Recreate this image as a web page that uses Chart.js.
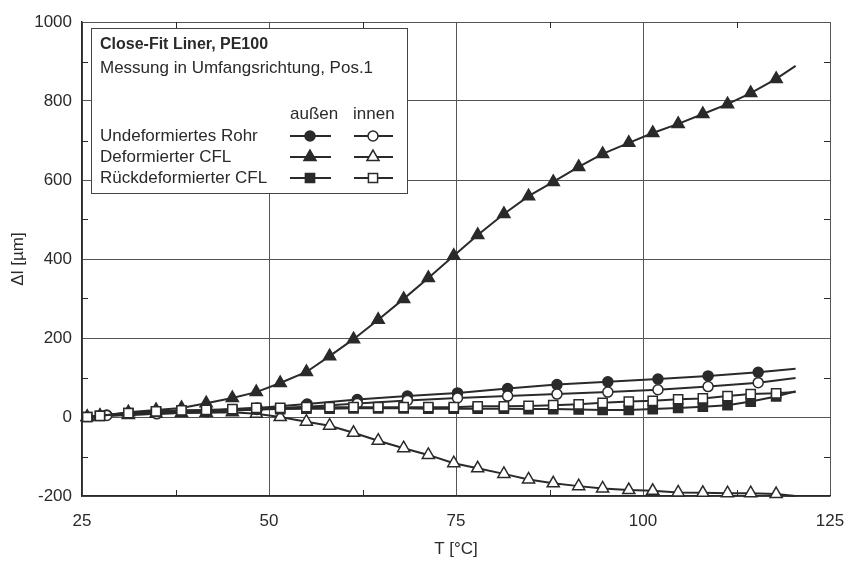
<!DOCTYPE html>
<html>
<head>
<meta charset="utf-8">
<script src="https://cdn.jsdelivr.net/npm/chart.js@4.4.1/dist/chart.umd.min.js"></script>
<style>
  html, body { margin: 0; padding: 0; background: #fff; }
  #wrap { width: 847px; height: 564px; }
</style>
</head>
<body>
<div id="wrap"><canvas id="chart" width="847" height="564"></canvas></div>
<script>
// Temperatures [°C] of the densely marked series (triangles, squares)
const tempDense = [25.7, 27.4, 31.2, 34.9, 38.3, 41.6, 45.1, 48.3, 51.5, 55.0, 58.1, 61.3, 64.6, 68.0, 71.3,
  74.7, 77.9, 81.4, 84.7, 88.0, 91.4, 94.6, 98.1, 101.3, 104.7, 108.0, 111.3, 114.4, 117.8, 120.4];
// Temperatures [°C] of the undeformed pipe (circles)
const tempPipe = [25.7, 28.3, 35.0, 41.7, 48.4, 55.1, 61.8, 68.5, 75.2, 81.9, 88.5, 95.3, 102.0, 108.7, 115.4, 120.4];

// Δl [µm]
const pipeOuter = [0, 5, 10, 16, 23, 33, 44, 53, 61, 72, 82, 89, 96, 104, 113, 122];
const pipeInner = [0, 4, 8, 13, 19, 26, 34, 42, 48, 53, 58, 63, 69, 77, 87, 99];
const cflOuter = [0, 3, 12, 18, 23, 35, 48, 63, 86, 114, 154, 197, 246, 299, 352,
  408, 461, 514, 559, 595, 633, 666, 694, 719, 742, 767, 792, 820, 856, 889];
const cflInner = [0, 2, 5, 8, 10, 11, 12, 8, 0, -12, -22, -40, -60, -79, -96,
  -117, -130, -144, -158, -168, -175, -181, -185, -187, -191, -192, -193, -193, -195, -200];
const reOuter = [0, 3, 10, 13, 15, 16, 18, 19, 20, 21, 21, 22, 22, 22, 21,
  21, 21, 21, 20, 20, 19, 18, 18, 20, 23, 26, 30, 39, 52, 65];
const reInner = [0, 3, 10, 14, 17, 18, 20, 23, 23, 25, 25, 25, 25, 25, 25,
  25, 27, 27, 28, 30, 32, 36, 39, 41, 45, 47, 53, 58, 60, 63];

const xTicks = [25, 50, 75, 100, 125];
const yTicks = [-200, 0, 200, 400, 600, 800, 1000];
const xMinor = [37.5, 62.5, 87.5, 112.5];
const yMinor = [-100, 100, 300, 500, 700, 900];

const rowLabels = ['Undeformiertes Rohr', 'Deformierter CFL', 'Rückdeformierter CFL'];

const INK = '#2a2a2a';
const FONT = "'Liberation Sans', Arial, sans-serif";

function pairs(xs, ys) {
  return xs.map((x, i) => ({ x: x, y: ys[i] }));
}

// markers on every measured point except the open line ends
function markerSize(r, skipFirst) {
  return ctx => {
    const n = ctx.dataset.data.length;
    if (ctx.dataIndex === n - 1) return 0;
    if (skipFirst && ctx.dataIndex === 0) return 0;
    return r;
  };
}

function series(xs, ys, style, filled, r, skipFirst) {
  return {
    data: pairs(xs, ys),
    borderColor: INK,
    borderWidth: 2,
    pointStyle: style,
    pointRadius: markerSize(r, skipFirst),
    pointBackgroundColor: filled ? INK : '#fff',
    pointBorderColor: INK,
    pointBorderWidth: 1.5,
    tension: 0,
    clip: false
  };
}

const datasets = [
  series(tempDense, reInner, 'rect', false, 6.5, false),
  series(tempDense, reOuter, 'rect', true, 6.5, false),
  series(tempPipe, pipeInner, 'circle', false, 5, true),
  series(tempPipe, pipeOuter, 'circle', true, 5, true),
  series(tempDense, cflInner, 'triangle', false, 7, false),
  series(tempDense, cflOuter, 'triangle', true, 7, false)
];

// short inward minor ticks on all four sides
const minorTicks = {
  id: 'minorTicks',
  afterDatasetsDraw(chart) {
    const { ctx, chartArea: a, scales } = chart;
    ctx.save();
    ctx.strokeStyle = INK;
    ctx.lineWidth = 1;
    ctx.beginPath();
    xMinor.forEach(v => {
      const px = Math.round(scales.x.getPixelForValue(v)) + 0.5;
      ctx.moveTo(px, a.bottom); ctx.lineTo(px, a.bottom - 6);
      ctx.moveTo(px, a.top); ctx.lineTo(px, a.top + 6);
    });
    yMinor.forEach(v => {
      const py = Math.round(scales.y.getPixelForValue(v)) + 0.5;
      ctx.moveTo(a.left, py); ctx.lineTo(a.left + 6, py);
      ctx.moveTo(a.right, py); ctx.lineTo(a.right - 6, py);
    });
    ctx.stroke();
    ctx.restore();
  }
};

// legend box in the upper left corner
const boxLegend = {
  id: 'boxLegend',
  afterDraw(chart) {
    const ctx = chart.ctx;
    const bx = 91, by = 28, bw = 316, bh = 165;
    ctx.save();
    ctx.fillStyle = '#fff';
    ctx.fillRect(bx, by, bw, bh);
    ctx.strokeStyle = '#444';
    ctx.lineWidth = 1;
    ctx.strokeRect(bx + 0.5, by + 0.5, bw, bh);

    ctx.fillStyle = INK;
    ctx.textBaseline = 'middle';
    ctx.font = 'bold 16px ' + FONT;
    ctx.fillText('Close-Fit Liner, PE100', 100, 45);
    ctx.font = '17px ' + FONT;
    ctx.fillText('Messung in Umfangsrichtung, Pos.1', 100, 68);
    ctx.fillText('außen', 290, 114);
    ctx.fillText('innen', 353, 114);

    const rowY = [136, 157, 178];
    const styles = ['circle', 'triangle', 'rect'];
    const sizes = [5, 7, 6.5];
    rowLabels.forEach((label, i) => {
      ctx.fillStyle = INK;
      ctx.fillText(label, 100, rowY[i]);
      [[290, 331, 310, true], [354, 393, 373, false]].forEach(([x0, x1, xm, filled]) => {
        ctx.strokeStyle = INK;
        ctx.lineWidth = 2;
        ctx.beginPath();
        ctx.moveTo(x0, rowY[i]);
        ctx.lineTo(x1, rowY[i]);
        ctx.stroke();
        ctx.fillStyle = filled ? INK : '#fff';
        ctx.lineWidth = 1.5;
        Chart.helpers.drawPoint(ctx, { pointStyle: styles[i], radius: sizes[i], rotation: 0, borderWidth: 1.5 }, xm, rowY[i]);
      });
    });
    ctx.restore();
  }
};

new Chart(document.getElementById('chart'), {
  type: 'line',
  data: { datasets: datasets },
  plugins: [minorTicks, boxLegend],
  options: {
    responsive: false,
    animation: false,
    layout: { padding: { top: 22, right: 17, left: 0, bottom: 0 } },
    plugins: { legend: { display: false }, tooltip: { enabled: false } },
    scales: {
      x: {
        type: 'linear',
        min: 25, max: 125,
        afterBuildTicks: s => { s.ticks = xTicks.map(v => ({ value: v })); },
        afterFit: s => { s.height = 68; s.paddingLeft = 0; s.paddingRight = 0; },
        ticks: { color: INK, font: { family: FONT, size: 17 }, padding: 15, maxRotation: 0, callback: v => String(v) },
        grid: { color: '#555', lineWidth: 1, drawTicks: false },
        border: { color: INK, width: 1.5 },
        title: { display: true, text: 'T [°C]', color: INK, font: { family: FONT, size: 17 }, padding: { top: 4, bottom: 4 } }
      },
      y: {
        min: -200, max: 1000,
        afterBuildTicks: s => { s.ticks = yTicks.map(v => ({ value: v })); },
        afterFit: s => { s.width = 82; },
        ticks: { color: INK, font: { family: FONT, size: 17 }, padding: 10, callback: v => String(v) },
        grid: { color: '#555', lineWidth: 1, drawTicks: false },
        border: { color: INK, width: 1.5 },
        title: { display: true, text: 'Δl [µm]', color: INK, font: { family: FONT, size: 17 }, padding: { top: 8, bottom: 4 } }
      }
    }
  }
});
</script>
</body>
</html>
